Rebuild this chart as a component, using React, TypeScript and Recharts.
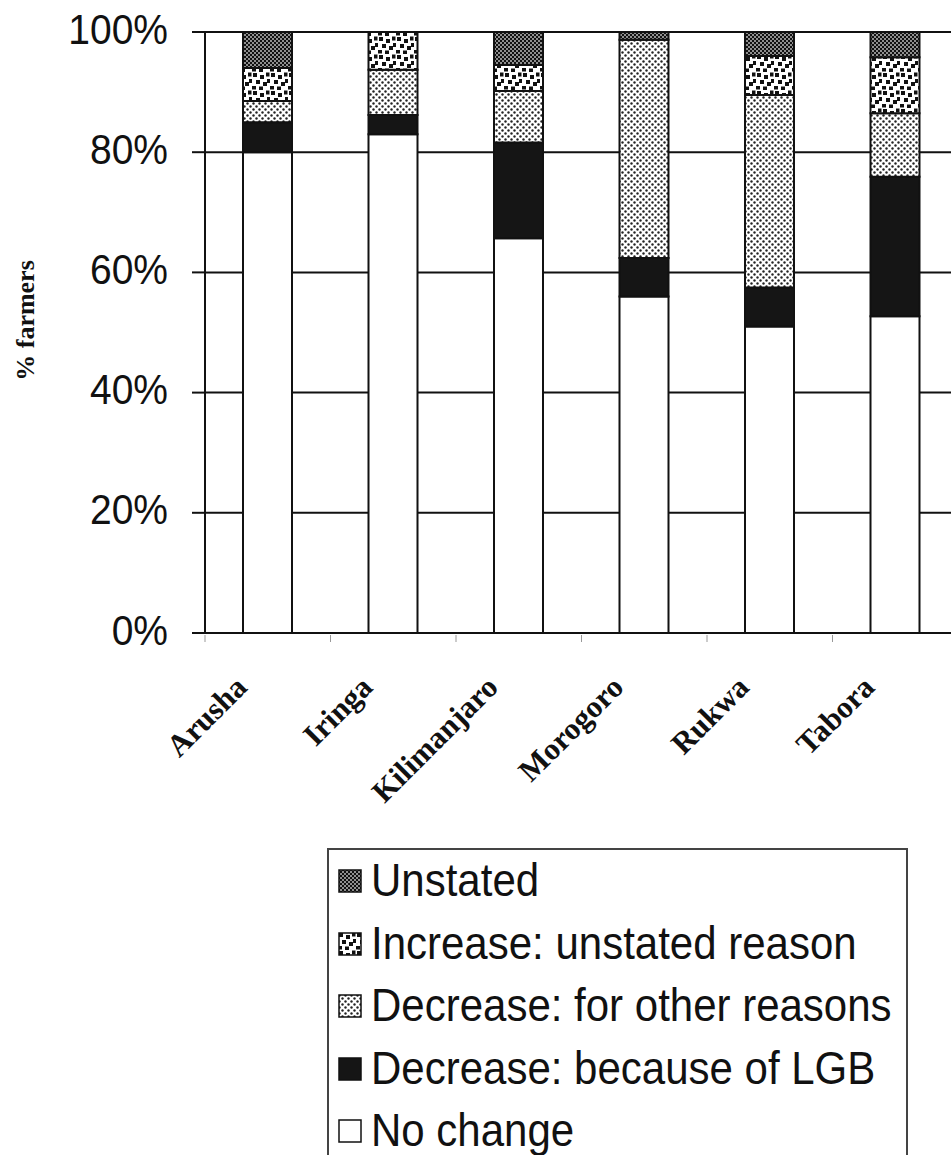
import React from 'react';
import { BarChart, Bar, XAxis, YAxis, CartesianGrid, Legend } from 'recharts';

const categories = ['Arusha', 'Iringa', 'Kilimanjaro', 'Morogoro', 'Rukwa', 'Tabora'];
const noChange = [80, 83, 65.7, 56, 51, 52.7];
const decreaseLGB = [5, 3.2, 15.9, 6.4, 6.5, 23.2];
const decreaseOther = [3.5, 7.5, 8.6, 36.3, 32, 10.6];
const increaseUnstated = [5.5, 6.3, 4.3, 0, 6.5, 9.3];
const unstated = [6, 0, 5.5, 1.3, 4, 4.2];
const yTicks = [0, 20, 40, 60, 80, 100];

const seriesNames = {
  noChange: 'No change',
  decreaseLGB: 'Decrease: because of LGB',
  decreaseOther: 'Decrease: for other reasons',
  increaseUnstated: 'Increase: unstated reason',
  unstated: 'Unstated',
};

const data = categories.map((name, i) => ({
  name,
  noChange: noChange[i],
  decreaseLGB: decreaseLGB[i],
  decreaseOther: decreaseOther[i],
  increaseUnstated: increaseUnstated[i],
  unstated: unstated[i],
}));

const SANS = "'Liberation Sans', Arial, Helvetica, sans-serif";
const SERIF = "'Liberation Serif', 'Times New Roman', serif";

const Patterns = ({ suffix = '' }: { suffix?: string }) => (
  <defs>
    <pattern id={`patUnstated${suffix}`} width="4" height="4" patternUnits="userSpaceOnUse">
      <rect width="4" height="4" fill="#8f8f8f" />
      <rect x="0" y="0" width="2" height="2" fill="#111" />
      <rect x="2" y="2" width="2" height="2" fill="#111" />
    </pattern>
    <pattern id={`patIncrease${suffix}`} width="18" height="18" patternUnits="userSpaceOnUse">
      <rect width="18" height="18" fill="#fff" />
      <rect x="1" y="1" width="4" height="4" fill="#111" />
      <rect x="8" y="3" width="4" height="4" fill="#111" />
      <rect x="14" y="0.5" width="3.5" height="4" fill="#111" />
      <rect x="4" y="8" width="4" height="4" fill="#111" />
      <rect x="11" y="10" width="4" height="4" fill="#111" />
      <rect x="0" y="14" width="4" height="3.5" fill="#111" />
      <rect x="7" y="14.5" width="4" height="3.5" fill="#111" />
      <rect x="15" y="7" width="3" height="4" fill="#111" />
    </pattern>
    <pattern id={`patOther${suffix}`} width="6" height="6" patternUnits="userSpaceOnUse">
      <rect width="6" height="6" fill="#fff" />
      <circle cx="1.5" cy="1.5" r="1.2" fill="#222" />
      <circle cx="4.5" cy="4.5" r="1.2" fill="#222" />
    </pattern>
  </defs>
);

const fills: Record<string, (s: string) => string> = {
  unstated: (s) => `url(#patUnstated${s})`,
  increaseUnstated: (s) => `url(#patIncrease${s})`,
  decreaseOther: (s) => `url(#patOther${s})`,
  decreaseLGB: () => '#151515',
  noChange: () => '#ffffff',
};

const stackOrder = ['noChange', 'decreaseLGB', 'decreaseOther', 'increaseUnstated', 'unstated'];
const legendOrder = ['unstated', 'increaseUnstated', 'decreaseOther', 'decreaseLGB', 'noChange'];

const YTick = (props: any) => {
  const { x, y, payload } = props;
  const cy = y - 3;
  return (
    <text
      x={x}
      y={cy}
      textAnchor="end"
      dominantBaseline="central"
      fontFamily={SANS}
      fontSize={39}
      fill="#111"
      transform={`translate(0 ${cy}) scale(1 1.1) translate(0 ${-cy})`}
    >
      {`${payload.value}%`}
    </text>
  );
};

const XTick = (props: any) => {
  const { x, y, payload } = props;
  const off = typeof payload.offset === 'number' ? payload.offset : 0;
  return (
    <g>
      {off > 0 && (
        <line x1={x - off} x2={x - off} y1={y + 2} y2={y + 9} stroke="#999" strokeWidth={1} />
      )}
      <text
        transform={`translate(${x - 19},${y + 56}) rotate(-45)`}
        textAnchor="end"
        fontFamily={SERIF}
        fontWeight="bold"
        fontSize={31}
        fill="#111"
      >
        {payload.value}
      </text>
    </g>
  );
};

const LegendContent = () => (
  <div
    style={{
      boxSizing: 'border-box',
      width: 581,
      height: 330,
      border: '2px solid #444',
      background: '#fff',
    }}
  >
    {legendOrder.map((key) => (
      <div
        key={key}
        style={{ height: 62.5, display: 'flex', alignItems: 'center', paddingLeft: 9 }}
      >
        <svg width={24} height={24} style={{ flex: 'none' }}>
          <Patterns suffix={`L${key}`} />
          <rect x={1} y={1} width={22} height={22} fill={fills[key](`L${key}`)} stroke="#111" strokeWidth={1.5} />
        </svg>
        <span
          style={{
            marginLeft: 9,
            fontFamily: SANS,
            fontSize: 42,
            color: '#111',
            display: 'inline-block',
            transform: 'scaleY(1.08)',
            whiteSpace: 'nowrap',
            lineHeight: '44px',
          }}
        >
          {(seriesNames as any)[key]}
        </span>
      </div>
    ))}
  </div>
);

export default function App() {
  return (
    <div
      style={{
        position: 'fixed',
        left: 0,
        top: 0,
        width: 951,
        height: 1155,
        overflow: 'hidden',
        background: '#fff',
      }}
    >
      <BarChart
        width={965}
        height={1155}
        data={data}
        margin={{ top: 32, right: 7, left: 0, bottom: 422 }}
        barSize={49}
      >
        <Patterns />
        <CartesianGrid horizontal vertical={false} stroke="#111" strokeWidth={2} />
        <XAxis
          dataKey="name"
          height={100}
          axisLine={{ stroke: '#111', strokeWidth: 2 }}
          tickLine={false}
          tickSize={0}
          tickMargin={0}
          interval={0}
          tick={<XTick />}
        />
        <YAxis
          width={205}
          domain={[0, 100]}
          ticks={yTicks}
          allowDataOverflow
          axisLine={{ stroke: '#111', strokeWidth: 2 }}
          tickLine={{ stroke: '#111', strokeWidth: 2 }}
          tickSize={13}
          tickMargin={24}
          tick={<YTick />}
          label={{
            content: (p: any) => {
              const vb = p.viewBox || { x: 0, y: 32, width: 205, height: 601 };
              const cx = vb.x + 25;
              const cy = vb.y + vb.height / 2 - 12;
              return (
                <text
                  transform={`translate(${cx},${cy}) rotate(-90)`}
                  textAnchor="middle"
                  dominantBaseline="central"
                  fontFamily={SERIF}
                  fontWeight="bold"
                  fontSize={26}
                  fill="#111"
                >
                  % farmers
                </text>
              );
            },
          }}
        />
        {stackOrder.map((key) => (
          <Bar
            key={key}
            dataKey={key}
            name={(seriesNames as any)[key]}
            stackId="a"
            fill={fills[key]('')}
            stroke="#111"
            strokeWidth={2}
            isAnimationActive={false}
          />
        ))}
        <Legend
          layout="vertical"
          align="center"
          verticalAlign="middle"
          content={<LegendContent />}
          wrapperStyle={{ left: 327, top: 848, width: 581, height: 330 }}
        />
      </BarChart>
    </div>
  );
}
